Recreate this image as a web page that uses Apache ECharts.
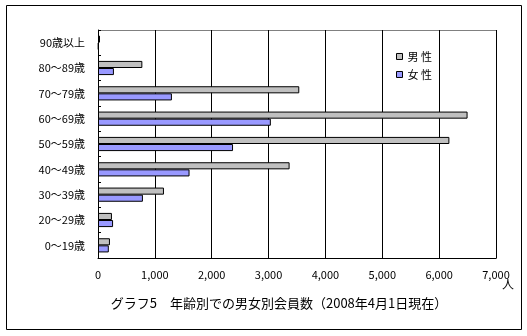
<!DOCTYPE html>
<html><head><meta charset="utf-8">
<script src="https://cdn.jsdelivr.net/npm/echarts@6/dist/echarts.min.js"></script>
<style>html,body{margin:0;padding:0;background:#fff}#c{width:527px;height:336px}</style>
</head><body><div id="c"></div>
<script>
const categories = ['0～19歳','20～29歳','30～39歳','40～49歳','50～59歳','60～69歳','70～79歳','80～89歳','90歳以上'];
const male = [210, 245, 1160, 3370, 6180, 6500, 3540, 780, 35];
const female = [190, 265, 790, 1610, 2375, 3040, 1300, 280, 10];
const seriesNames = ['男 性', '女 性'];
const xTicks = [0, 1000, 2000, 3000, 4000, 5000, 6000, 7000];
const titleText = 'グラフ5　年齢別での男女別会員数（2008年4月1日現在）';
const unitText = '人';

const font = '"Noto Sans CJK JP", sans-serif';
const chart = echarts.init(document.getElementById('c'));
chart.setOption({
  animation: false,
  textStyle: { fontFamily: font, color: '#000' },
  title: {
    text: titleText, left: 274, textAlign: 'center', top: 292,
    textStyle: { fontFamily: font, fontSize: 13, fontWeight: 'normal', color: '#000' }
  },
  legend: {
    data: seriesNames.map(n => ({ name: n, icon: 'rect' })), orient: 'vertical', left: 391, top: 46,
    itemWidth: 6, itemHeight: 6, itemGap: 7,
    itemStyle: { borderColor: '#000', borderWidth: 1 },
    textStyle: { fontFamily: font, fontSize: 11, color: '#000' }
  },
  graphic: [
    { type: 'rect', shape: { x: 6.5, y: 5.5, width: 515, height: 324 },
      style: { fill: null, stroke: '#000', lineWidth: 1 }, z: -1 },
    { type: 'rect', shape: { x: 98.5, y: 30.5, width: 398, height: 228 },
      style: { fill: null, stroke: '#808080', lineWidth: 1 }, z: -1 },
    { type: 'text', left: 502, top: 278,
      style: { text: unitText, font: '12px ' + font, fill: '#000' } }
  ],
  grid: { left: 98, top: 30, width: 398, height: 228, containLabel: false },
  xAxis: {
    type: 'value', min: xTicks[0], max: xTicks[xTicks.length - 1], interval: 1000,
    axisLine: { show: true, lineStyle: { color: '#000' } },
    axisTick: { show: false },
    splitLine: { show: true, lineStyle: { color: '#000', width: 1 } },
    axisLabel: { margin: 11, fontSize: 11, color: '#000', fontFamily: font,
      formatter: v => v.toLocaleString('en-US') }
  },
  yAxis: {
    type: 'category', data: categories,
    axisLine: { show: true, lineStyle: { color: '#000' } },
    axisTick: { show: true, inside: true, length: 3, lineStyle: { color: '#000' } },
    axisLabel: { margin: 13, fontSize: 11, color: '#000', fontFamily: font }
  },
  series: [
    { name: seriesNames[0], type: 'bar', data: male, barGap: '0%', barCategoryGap: '44%',
      itemStyle: { color: '#C0C0C0', borderColor: '#000', borderWidth: 1 } },
    { name: seriesNames[1], type: 'bar', data: female, barGap: '0%', barCategoryGap: '44%',
      itemStyle: { color: '#9999FF', borderColor: '#000', borderWidth: 1 } }
  ]
});
</script></body></html>
